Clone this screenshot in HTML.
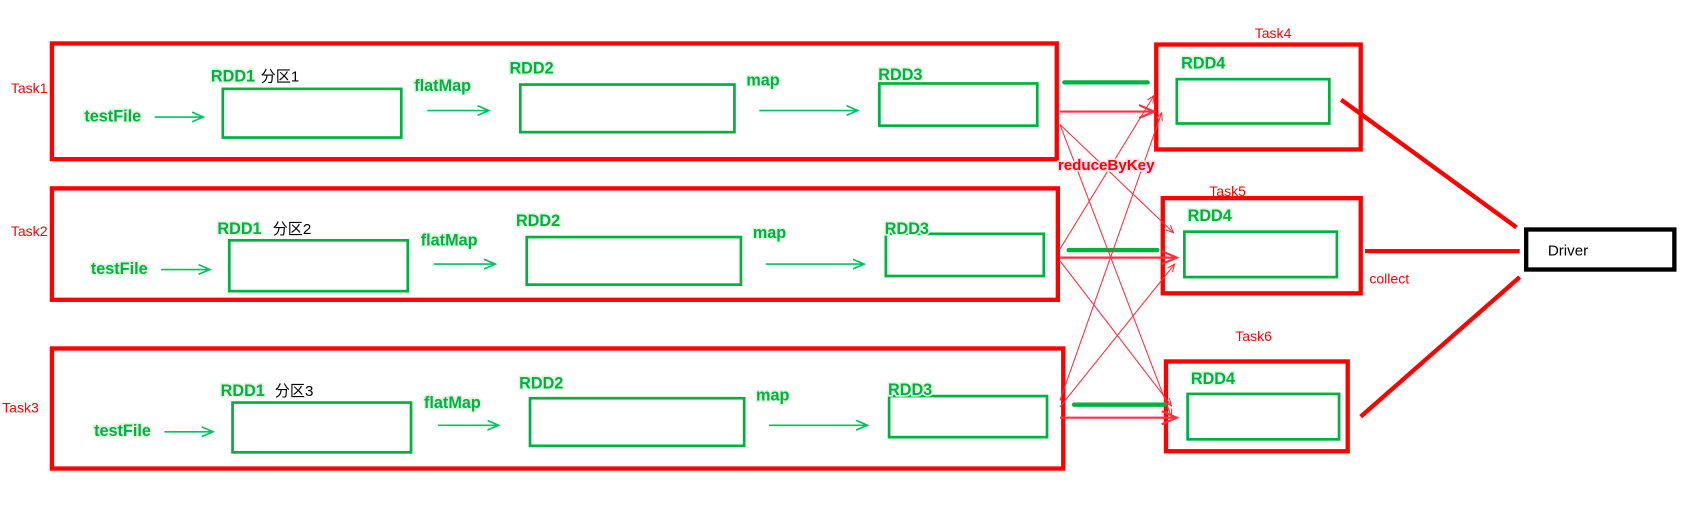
<!DOCTYPE html>
<html><head><meta charset="utf-8"><style>
body{margin:0;background:#fff;width:1696px;height:512px;overflow:hidden}
svg{display:block}
text{font-family:"Liberation Sans","Noto Sans CJK SC",sans-serif}
.g{fill:#00b140;font-weight:bold;font-size:15px;stroke:#dff5df;stroke-width:3px;paint-order:stroke}
.k{fill:#000;font-size:14px}
.r{fill:#ff0000;font-size:13px}
</style></head><body>
<svg width="1696" height="512" viewBox="0 0 1568 473">
<defs><marker id="ga" markerWidth="8" markerHeight="8" refX="7" refY="4" orient="auto"><path d="M0,1 L7,4 L0,7" fill="none" stroke="#00c060" stroke-width="1"/></marker>
<marker id="ra" markerWidth="8" markerHeight="8" refX="7" refY="4" orient="auto"><path d="M0,1 L7,4 L0,7" fill="none" stroke="#ff3040" stroke-width="1"/></marker></defs>
<g fill="none" stroke="#ff0000" stroke-width="4">
<rect x="48" y="40" width="929" height="107"/>
<rect x="48" y="174" width="930" height="103"/>
<rect x="48" y="322" width="935" height="111"/>
<rect x="1069" y="41" width="189" height="97"/>
<rect x="1075" y="183" width="183" height="88"/>
<rect x="1078" y="334" width="168" height="83"/>
</g>
<rect x="1411" y="212" width="137" height="37" fill="none" stroke="#000" stroke-width="4"/>
<g fill="none" stroke="#00b140" stroke-width="2.5">
<rect x="206" y="82" width="165" height="45"/><rect x="481" y="78" width="198" height="44"/><rect x="813" y="77" width="146" height="39"/><rect x="1088" y="73" width="141" height="41"/>
<rect x="212" y="222" width="165" height="47"/><rect x="487" y="219" width="198" height="44"/><rect x="819" y="216" width="146" height="39"/><rect x="1095" y="214" width="141" height="42"/>
<rect x="215" y="372" width="165" height="46"/><rect x="490" y="368" width="198" height="44"/><rect x="822" y="366" width="146" height="38"/><rect x="1098" y="364" width="140" height="42"/>
</g>
<g stroke="#00c060" stroke-width="1.5" marker-end="url(#ga)">
<line x1="143" y1="108" x2="188" y2="108"/><line x1="395" y1="102" x2="452" y2="102"/><line x1="702" y1="102" x2="793" y2="102"/>
<line x1="149" y1="249" x2="194" y2="249"/><line x1="401" y1="244" x2="458" y2="244"/><line x1="708" y1="244" x2="799" y2="244"/>
<line x1="152" y1="399" x2="197" y2="399"/><line x1="405" y1="393" x2="461" y2="393"/><line x1="711" y1="393" x2="802" y2="393"/>
</g>
<g stroke="#00b140" stroke-width="4" stroke-linecap="round">
<line x1="984" y1="76" x2="1061" y2="76"/><line x1="988" y1="231" x2="1070" y2="231"/><line x1="993" y1="374" x2="1077" y2="374"/>
</g>
<g stroke="#ff3040" stroke-width="1" marker-end="url(#ra)" fill="none">
<line x1="980" y1="103" x2="1067" y2="103" stroke-width="2"/><line x1="980" y1="238" x2="1088" y2="238" stroke-width="2"/><line x1="980" y1="386" x2="1088" y2="386" stroke-width="2"/>
<line x1="980" y1="115" x2="1085" y2="215"/><line x1="980" y1="115" x2="1083" y2="385"/>
<line x1="980" y1="230" x2="1067" y2="88"/><line x1="980" y1="241" x2="1083" y2="375"/>
<line x1="980" y1="370" x2="1074" y2="104"/><line x1="980" y1="376" x2="1086" y2="244"/>
</g>
<g stroke="#ff0000" stroke-width="4">
<line x1="1240" y1="92" x2="1402" y2="210"/><line x1="1262" y1="232" x2="1405" y2="232"/><line x1="1258" y1="385" x2="1405" y2="256"/>
</g>
<g>
<text class="r" x="10" y="86">Task1</text><text class="r" x="10" y="218">Task2</text><text class="r" x="2" y="381">Task3</text>
<text class="r" x="1160" y="35">Task4</text><text class="r" x="1118" y="181">Task5</text><text class="r" x="1142" y="315">Task6</text>
<text class="r" x="1266" y="262">collect</text><text class="k" x="1431" y="236" font-size="13">Driver</text>
<text x="978" y="157" fill="#ff0000" font-weight="bold" font-size="14" stroke="#fde" stroke-width="3" paint-order="stroke">reduceByKey</text>
<text class="g" x="195" y="75">RDD1</text><text class="k" x="241" y="75">分区1</text>
<text class="g" x="383" y="84">flatMap</text><text class="g" x="471" y="68">RDD2</text><text class="g" x="690" y="79">map</text><text class="g" x="812" y="74">RDD3</text><text class="g" x="78" y="112">testFile</text><text class="g" x="1092" y="63">RDD4</text>
<text class="g" x="201" y="216">RDD1</text><text class="k" x="252" y="216">分区2</text>
<text class="g" x="389" y="227">flatMap</text><text class="g" x="477" y="209">RDD2</text><text class="g" x="696" y="220">map</text><text class="g" x="818" y="216">RDD3</text><text class="g" x="84" y="253">testFile</text><text class="g" x="1098" y="204">RDD4</text>
<text class="g" x="204" y="366">RDD1</text><text class="k" x="254" y="366">分区3</text>
<text class="g" x="392" y="377">flatMap</text><text class="g" x="480" y="359">RDD2</text><text class="g" x="699" y="370">map</text><text class="g" x="821" y="365">RDD3</text><text class="g" x="87" y="403">testFile</text><text class="g" x="1101" y="355">RDD4</text>
</g>
</svg>
</body></html>
